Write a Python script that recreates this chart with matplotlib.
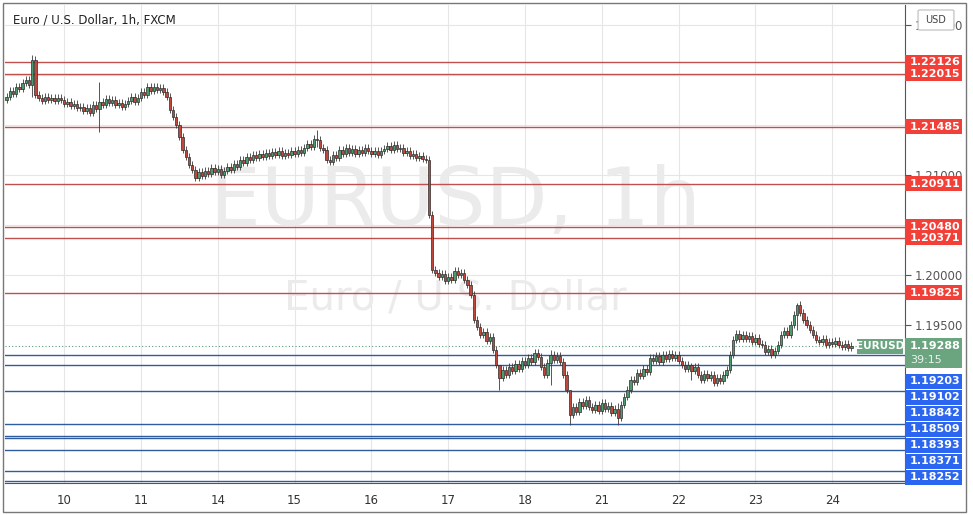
import matplotlib
matplotlib.use("Agg")
import matplotlib.pyplot as plt
from matplotlib.patches import Rectangle, FancyBboxPatch

# hourly closes in pips (1.2178 -> 12178)
closes = [
12178,12184,12181,12188,12186,12192,12195,12190,12215,12180,
12177,12174,12178,12175,12177,12174,12177,12175,12171,12173,
12169,12171,12167,12168,12164,12167,12162,12170,12166,12173,
12170,12176,12172,12175,12170,12172,12168,12171,12174,12178,
12173,12177,12183,12180,12188,12184,12188,12185,12187,12183,
12178,12165,12158,12150,12138,12125,12118,12110,12105,12097,
12103,12099,12104,12101,12107,12103,12106,12100,12104,12108,
12105,12111,12108,12115,12112,12118,12115,12120,12117,12121,
12118,12122,12119,12123,12120,12124,12119,12122,12120,12124,
12121,12125,12122,12127,12131,12128,12136,12135,12127,12125,
12115,12113,12120,12117,12125,12121,12127,12122,12126,12121,
12125,12122,12127,12124,12121,12124,12120,12124,12126,12129,
12125,12130,12126,12127,12122,12124,12119,12121,12117,12119,
12116,12115,12060,12005,12002,11998,12001,11994,11998,11995,
12004,12000,12002,11995,11990,11980,11955,11948,11940,11943,
11934,11938,11925,11910,11897,11905,11900,11908,11904,11911,
11906,11914,11910,11917,11913,11922,11918,11908,11900,11912,
11920,11915,11919,11913,11900,11885,11860,11868,11863,11873,
11869,11875,11868,11865,11870,11864,11872,11866,11869,11862,
11866,11857,11870,11878,11885,11895,11893,11902,11899,11906,
11903,11917,11914,11919,11913,11920,11916,11921,11917,11920,
11914,11910,11906,11910,11904,11908,11900,11895,11901,11897,
11900,11892,11897,11894,11900,11905,11920,11935,11941,11936,
11940,11936,11939,11933,11937,11931,11930,11923,11926,11920,
11924,11930,11940,11944,11940,11950,11960,11970,11962,11955,
11950,11945,11940,11935,11933,11936,11930,11933,11931,11934,
11930,11928,11931,11927,11929]
first_open = 12175
special_wicks = {8: (12220, 12178), 29: (12193, 12143), 97: (12145, 12128),
                 154: (11905, 11885), 176: (11880, 11850), 191: (11872, 11850),
                 247: (11972, 11945), 214: (11912, 11895), 170: (11925, 11890)}

day_labels = ["10", "11", "14", "15", "16", "17", "18", "21", "22", "23", "24"]
day_start_idx = [18, 42, 66, 90, 114, 138, 162, 186, 210, 234, 258]

red_levels = [1.22126, 1.22015, 1.21485, 1.20911, 1.20480, 1.20371, 1.19825]
blue_levels = [1.19203, 1.19102, 1.18842, 1.18509, 1.18393, 1.18371, 1.18252, 1.18040, 1.17940]
last_price = 1.19288
yticks = [1.195, 1.200, 1.205, 1.210, 1.215, 1.220, 1.225]
ytick_labels = ["1.19500", "1.20000", "", "1.21000", "", "", "1.22500"]

W, H = 973, 515
fig = plt.figure(figsize=(W/100, H/100), dpi=100)
fig.patch.set_facecolor("white")
L, R, T, B = 5, 905, 5, 483
ax = fig.add_axes([L/W, (H-B)/H, (R-L)/W, (B-T)/H])
ymin, ymax = 1.1792, 1.2270
ax.set_xlim(-0.5, -0.5 + (R-L)/3.2)
ax.set_ylim(ymin, ymax)

for i in day_start_idx:
    ax.axvline(i, color="#e6e6e6", lw=0.8, zorder=0)
for yv in yticks:
    ax.axhline(yv, color="#e6e6e6", lw=0.8, zorder=0)

ax.text(0.5, 0.585, "EURUSD, 1h", transform=ax.transAxes, ha="center", va="center",
        fontsize=58, color="#ebebeb", zorder=0.5)
ax.text(0.5, 0.385, "Euro / U.S. Dollar", transform=ax.transAxes, ha="center", va="center",
        fontsize=29, color="#ebebeb", zorder=0.5)

for lv in red_levels:
    ax.axhline(lv, color="#c0504d", lw=1.0, zorder=1)
for lv in blue_levels:
    ax.axhline(lv, color="#2f5c9e", lw=1.0, zorder=1)
ax.axhline(last_price, color="#5a9e78", lw=0.8, ls=(0, (1, 2)), zorder=1)

prev = first_open
for i, c in enumerate(closes):
    o = prev
    hi, lo = max(o, c) + 4, min(o, c) - 3
    if i in special_wicks:
        hi, lo = special_wicks[i]
    up = c >= o
    fc = "#4e9a6f" if up else "#c0473c"
    ax.vlines(i, lo/10000, hi/10000, color="#3a3a3a", lw=0.6, zorder=2)
    bot = min(o, c)/10000
    h = max(abs(c - o), 0.8)/10000
    ax.add_patch(Rectangle((i-0.4, bot), 0.8, h, facecolor=fc, edgecolor="#2b2b2b", lw=0.5, zorder=3))
    prev = c

for s in ["top", "left"]:
    ax.spines[s].set_visible(False)
ax.spines["right"].set_color("#555555")
ax.spines["bottom"].set_color("#555555")
ax.yaxis.tick_right()
ax.set_yticks(yticks)
ax.set_yticklabels(ytick_labels, fontsize=8.5, color="#555555")
ax.tick_params(axis="y", left=False, labelleft=False, right=True, labelright=True,
               length=4, color="#555555", pad=3)
ax.set_xticks(day_start_idx)
ax.set_xticklabels(day_labels, fontsize=8.5, color="#333333")
ax.tick_params(axis="x", length=0, pad=8)

def ypix(p):
    return T + (ymax - p) / (ymax - ymin) * (B - T)

BW = 57
def box(yc, txt, color, h=15):
    fig.patches.append(Rectangle((R/W, 1 - (yc + h/2)/H), BW/W, h/H, transform=fig.transFigure,
                                 facecolor=color, edgecolor="none", zorder=5))
    fig.text((R + 5)/W, 1 - yc/H, txt, ha="left", va="center", color="white",
             fontsize=8, fontweight="bold", zorder=6)

for lv in red_levels:
    box(ypix(lv), f"{lv:.5f}", "#f23f37")

yc_last = ypix(last_price)
fig.patches.append(Rectangle((R/W, 1 - (yc_last + 22)/H), BW/W, 30/H, transform=fig.transFigure,
                             facecolor="#6aa57f", edgecolor="none", zorder=5))
fig.text((R+5)/W, 1 - yc_last/H, f"{last_price:.5f}", ha="left", va="center", color="white",
         fontsize=8, fontweight="bold", zorder=6)
fig.text((R+5)/W, 1 - (yc_last+14)/H, "39:15", ha="left", va="center", color="#e8f3ec",
         fontsize=8, zorder=6)
fig.patches.append(Rectangle(((R-48)/W, 1 - (yc_last+8)/H), 46/W, 15/H, transform=fig.transFigure,
                             facecolor="#6aa57f", edgecolor="none", zorder=5))
fig.text((R-25)/W, 1 - yc_last/H, "EURUSD", ha="center", va="center", color="white",
         fontsize=7.5, fontweight="bold", zorder=6)

prev_y = yc_last + 19
for lv in blue_levels[:-1]:
    yc = max(ypix(lv), prev_y + 16)
    if yc < B + 8:
        box(yc, f"{lv:.5f}", "#2c66f0")
    prev_y = yc

fig.text(13/W, 1 - 20/H, "Euro / U.S. Dollar, 1h, FXCM", fontsize=8.5, color="#222222", va="center")
fig.patches.append(FancyBboxPatch((920/W, 1 - 29/H), 32/W, 18/H, boxstyle="round,pad=0.002",
                                  transform=fig.transFigure, facecolor="white",
                                  edgecolor="#bbbbbb", lw=0.8, zorder=7))
fig.text(936/W, 1 - 20/H, "USD", ha="center", va="center", fontsize=7, color="#444444", zorder=8)
fig.patches.append(Rectangle((3/W, 3/H), 963/W, 509/H, transform=fig.transFigure,
                             fill=False, edgecolor="#777777", lw=1, zorder=9))

fig.savefig("out.png", dpi=100)
